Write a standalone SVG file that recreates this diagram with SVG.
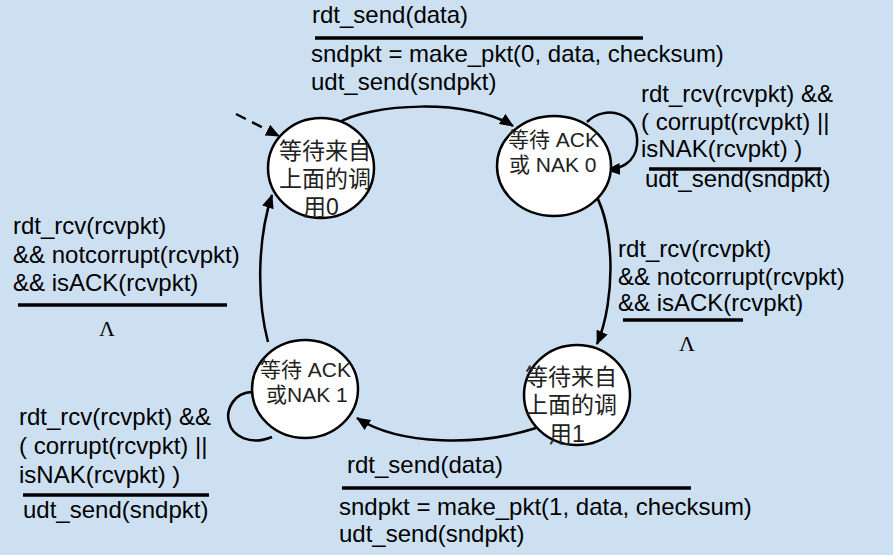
<svg xmlns="http://www.w3.org/2000/svg" width="893" height="555" viewBox="0 0 893 555">
<style>
.lbl{font-family:"Liberation Sans",Arial,sans-serif;font-size:24px;fill:#000}
.st{font-family:"Liberation Sans","Noto Sans CJK SC",sans-serif;fill:#222}
.lam{font-family:"Liberation Serif",serif;font-size:22px;fill:#000}
.node{fill:#fff;stroke:#000;stroke-width:2.5}
.bar{stroke:#000;stroke-width:3.5}
.edge{fill:none;stroke:#000;stroke-width:2.5}
</style>
<defs>
<marker id="ah" markerUnits="userSpaceOnUse" markerWidth="14" markerHeight="12" refX="13" refY="6" orient="auto">
<path d="M0,0 L14,6 L0,12 z" fill="#000"/>
</marker>
</defs>
<rect width="893" height="555" fill="#cde0f2"/>

<g id="connectors">
<path class="edge" d="M236,114 L279,136" stroke-dasharray="11,7" stroke-width="3.5" marker-end="url(#ah)"/>
<path class="edge" d="M336,124 C370,103 470,98 513,126" marker-end="url(#ah)"/>
<path class="edge" d="M587,122 C605,104 640,112 637,145 C635,163 620,169 607,170" marker-end="url(#ah)"/>
<path class="edge" d="M590,186 C616,220 616,300 597,344" marker-end="url(#ah)"/>
<path class="edge" d="M536,428 C480,446 400,446 357,418" marker-end="url(#ah)"/>
<path class="edge" d="M268,342 C257,300 257,240 272,195" marker-end="url(#ah)"/>
<path class="edge" d="M253,392 C232,392 226,412 229,422 C232,436 250,446 272,437"/>
</g>

<g id="wait-call-0">
<ellipse class="node" cx="321" cy="168" rx="53" ry="50"/>
<text class="st" font-size="23"><tspan x="279" y="159">等待来自</tspan><tspan x="279" y="187">上面的调</tspan><tspan x="303" y="215">用0</tspan></text>
</g>

<g id="wait-ack-0">
<ellipse class="node" cx="554" cy="166" rx="57" ry="50"/>
<text class="st" font-size="21"><tspan x="508" y="147">等待 ACK</tspan><tspan x="509" y="172">或 NAK 0</tspan></text>
</g>

<g id="wait-ack-1">
<ellipse class="node" cx="305" cy="389" rx="53" ry="49"/>
<text class="st" font-size="21"><tspan x="260" y="377">等待 ACK</tspan><tspan x="266" y="402">或NAK 1</tspan></text>
</g>

<g id="wait-call-1">
<ellipse class="node" cx="577" cy="395" rx="53" ry="50"/>
<text class="st" font-size="23"><tspan x="525" y="385">等待来自</tspan><tspan x="525" y="413">上面的调</tspan><tspan x="549" y="442">用1</tspan></text>
</g>

<g id="label-top">
<text class="lbl" x="312" y="23">rdt_send(data)</text>
<line class="bar" x1="315" y1="38" x2="643" y2="38"/>
<text class="lbl"><tspan x="311" y="62">sndpkt = make_pkt(0, data, checksum)</tspan><tspan x="311" y="90">udt_send(sndpkt)</tspan></text>
</g>

<g id="label-loop-0">
<text class="lbl"><tspan x="641" y="102">rdt_rcv(rcvpkt) &amp;&amp;</tspan><tspan x="641" y="130">( corrupt(rcvpkt) ||</tspan><tspan x="641" y="157">isNAK(rcvpkt) )</tspan></text>
<line class="bar" x1="649" y1="169" x2="821" y2="169"/>
<text class="lbl" x="645" y="187">udt_send(sndpkt)</text>
</g>

<g id="label-right">
<text class="lbl"><tspan x="618" y="257">rdt_rcv(rcvpkt)</tspan><tspan x="618" y="285">&amp;&amp; notcorrupt(rcvpkt)</tspan><tspan x="618" y="311">&amp;&amp; isACK(rcvpkt)</tspan></text>
<line class="bar" x1="623" y1="320" x2="743" y2="320"/>
<text class="lam" x="687" y="351" text-anchor="middle">Λ</text>
</g>

<g id="label-left">
<text class="lbl"><tspan x="13" y="234">rdt_rcv(rcvpkt)</tspan><tspan x="13" y="263">&amp;&amp; notcorrupt(rcvpkt)</tspan><tspan x="13" y="291">&amp;&amp; isACK(rcvpkt)</tspan></text>
<line class="bar" x1="18" y1="305" x2="227" y2="305"/>
<text class="lam" x="107" y="336" text-anchor="middle">Λ</text>
</g>

<g id="label-loop-1">
<text class="lbl"><tspan x="19" y="425">rdt_rcv(rcvpkt) &amp;&amp;</tspan><tspan x="19" y="454">( corrupt(rcvpkt) ||</tspan><tspan x="19" y="483">isNAK(rcvpkt) )</tspan></text>
<line class="bar" x1="23" y1="495" x2="209" y2="495"/>
<text class="lbl" x="23" y="518">udt_send(sndpkt)</text>
</g>

<g id="label-bottom">
<text class="lbl" x="347" y="473">rdt_send(data)</text>
<line class="bar" x1="342" y1="488" x2="691" y2="488"/>
<text class="lbl"><tspan x="339" y="515">sndpkt = make_pkt(1, data, checksum)</tspan><tspan x="339" y="542">udt_send(sndpkt)</tspan></text>
</g>
</svg>
